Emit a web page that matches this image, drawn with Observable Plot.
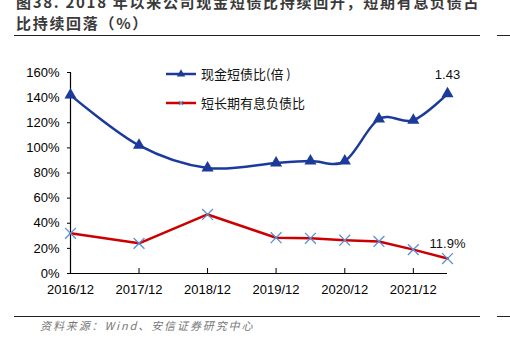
<!DOCTYPE html>
<html>
<head>
<meta charset="utf-8">
<script src="https://cdn.jsdelivr.net/npm/d3@7"></script>
<script src="https://cdn.jsdelivr.net/npm/@observablehq/plot@0.6"></script>
<style>
  html, body { margin: 0; padding: 0; background: #fff; }
  #wrap { position: relative; width: 510px; height: 351px; overflow: hidden; font-family: "Liberation Sans", Arial, sans-serif; }
  #chart { position: absolute; left: 0; top: 0; }
  .title { position: absolute; left: 16px; top: -9px; width: 480px; font-family: "Noto Sans CJK SC", sans-serif; font-weight: 700; font-size: 15px; line-height: 21px; letter-spacing: 1.7px; color: #3a3a3a; white-space: nowrap; }
  .rule { position: absolute; height: 0; border-top: 1.5px solid #222; }
  .source { position: absolute; left: 40px; top: 317px; font-family: "Noto Sans CJK SC", sans-serif; font-style: italic; font-size: 11px; letter-spacing: 1.9px; color: #777; white-space: nowrap; }
  .legend { position: absolute; left: 160px; top: 60px; }
  .legend text { font-family: "Noto Sans CJK SC", sans-serif; font-size: 13px; fill: #111; }
</style>
</head>
<body>
<div id="wrap">
  <div id="chart"></div>
  <div class="title">图38. 2018 年以来公司现金短债比持续回升，短期有息负债占<br>比持续回落（%）</div>
  <div class="rule" style="left:14px; top:35px; width:466px;"></div>
  <div class="rule" style="left:497px; top:35px; width:13px;"></div>
  <div class="rule" style="left:14px; top:316px; width:466px;"></div>
  <div class="rule" style="left:497px; top:316px; width:13px;"></div>
  <div class="source">资料来源：Wind、安信证券研究中心</div>
  <svg class="legend" width="160" height="56"></svg>
</div>
<script>
// ---- data ----
const periods = ["2016/12","2017/12","2018/12","2019/12","2020/06","2020/12","2021/06","2021/12","2022/06"];
const cashShortDebt = [142, 102, 84, 88, 89.5, 89.5, 123, 122, 143];   // 现金短债比 (as %)
const shortDebtRatio = [32, 24, 47, 28.5, 28, 26.5, 25.5, 19, 11.9];  // 短长期有息负债比 (%)
const xTickLabels = ["2016/12","2017/12","2018/12","2019/12","2020/12","2021/12"];
const yTicks = [0, 20, 40, 60, 80, 100, 120, 140, 160];
const seriesNames = ["现金短债比(倍 )", "短长期有息负债比"];
const endLabels = ["1.43", "11.9%"];

const parse = d3.utcParse("%Y/%m");
const fmt = d3.utcFormat("%Y/%m");
const blue = "#1c3a9a", red = "#cc0000", xblue = "#5b8fd6";

const blueData = periods.map((p, i) => ({date: parse(p), v: cashShortDebt[i]}));
const redData = periods.map((p, i) => ({date: parse(p), v: shortDebtRatio[i]}));
const xTicks = xTickLabels.map(parse);

const plot = Plot.plot({
  width: 510,
  height: 351,
  marginLeft: 70,
  marginRight: 63,
  marginTop: 72,
  marginBottom: 78,
  style: {fontFamily: "'Liberation Sans', Arial, sans-serif", fontSize: "13px", color: "#000", background: "transparent"},
  x: {type: "utc", domain: [parse(periods[0]), parse(periods[periods.length - 1])]},
  y: {domain: [0, 160]},
  marks: [
    Plot.axisY({ticks: yTicks, tickFormat: d => d + "%", tickSize: 3, tickPadding: 8, fontSize: 13, label: null, stroke: "#000"}),
    Plot.axisX({ticks: xTicks, tickFormat: fmt, tickSize: 0, tickPadding: 11, fontSize: 13, label: null}),
    Plot.ruleY([0], {stroke: "#000", strokeWidth: 1.2}),
    Plot.ruleX([parse(periods[0])], {stroke: "#000", strokeWidth: 1.2}),
    Plot.ruleX(xTicks, {x: d => d, y1: 0, y2: 4, stroke: "#000", strokeWidth: 1}),
    Plot.line(redData, {x: "date", y: "v", stroke: red, strokeWidth: 2.5}),
    Plot.dot(redData, {x: "date", y: "v", symbol: "times", r: 5, stroke: xblue, strokeWidth: 1.3}),
    Plot.line(blueData, {x: "date", y: "v", curve: "cardinal", stroke: blue, strokeWidth: 2.5}),
    Plot.dot(blueData, {x: "date", y: "v", symbol: "triangle", r: 4.5, fill: blue, stroke: "none"}),
    Plot.text([blueData[blueData.length - 1]], {x: "date", y: "v", text: () => endLabels[0], dy: -19, fontSize: 13, fill: "#111"}),
    Plot.text([redData[redData.length - 1]], {x: "date", y: "v", text: () => endLabels[1], dy: -15, fontSize: 13, fill: "#111"})
  ]
});
document.getElementById("chart").appendChild(plot);

// legend
const lg = d3.select(".legend");
const rows = [
  {name: seriesNames[0], stroke: blue, y: 14, marker: "triangle"},
  {name: seriesNames[1], stroke: red, y: 43, marker: "times"}
];
rows.forEach(r => {
  lg.append("line").attr("x1", 6).attr("x2", 36).attr("y1", r.y).attr("y2", r.y).attr("stroke", r.stroke).attr("stroke-width", 2.5);
  if (r.marker === "triangle") {
    lg.append("path").attr("d", d3.symbol(d3.symbolTriangle, 30)()).attr("transform", `translate(21,${r.y})`).attr("fill", blue);
  } else {
    lg.append("path").attr("d", d3.symbol(d3.symbolTimes, 14)()).attr("transform", `translate(21,${r.y})`).attr("stroke", xblue).attr("stroke-width", 1.2).attr("fill", "none");
  }
  lg.append("text").attr("x", 41).attr("y", r.y).attr("dy", "0.35em").attr("xml:space", "preserve").text(r.name);
});
</script>
</body>
</html>
